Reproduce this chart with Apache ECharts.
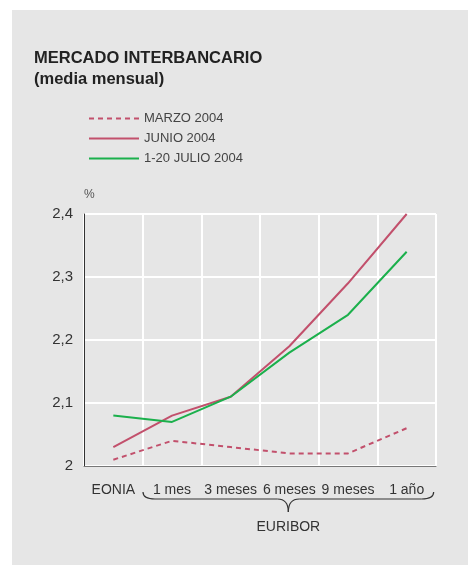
<!DOCTYPE html>
<html>
<head>
    <meta charset="utf-8">
    <title>Mercado interbancario</title>
    <script src="https://cdn.jsdelivr.net/npm/echarts@6/dist/echarts.min.js"></script>
    <style>
        html, body { margin: 0; padding: 0; background: #fff; }
        #container { position: absolute; left: 12px; top: 10px; width: 456px; height: 555px; background: #e6e6e6; }
    </style>
</head>
<body>
    <div id="container"></div>
    <script type="text/javascript">
        // datos
        var categorias = ['EONIA', '1 mes', '3 meses', '6 meses', '9 meses', '1 año'];
        var marzo = [2.01, 2.04, 2.03, 2.02, 2.02, 2.06];
        var junio = [2.03, 2.08, 2.11, 2.19, 2.29, 2.40];
        var julio = [2.08, 2.07, 2.11, 2.18, 2.24, 2.34];
        var nombres = ['MARZO 2004', 'JUNIO 2004', '1-20 JULIO 2004'];

        var rojo = '#c2506c';
        var verde = '#1bb04c';
        var fuente = 'Liberation Sans';

        var myChart = echarts.init(document.getElementById('container'));

        var option = {
            backgroundColor: '#e6e6e6',
            textStyle: { fontFamily: fuente },
            title: {
                text: 'MERCADO INTERBANCARIO\n(media mensual)',
                left: 17,
                top: 33,
                textStyle: { fontSize: 16.5, fontWeight: 'bold', color: '#222', lineHeight: 21, fontFamily: fuente }
            },
            legend: {
                data: nombres,
                orient: 'vertical',
                left: 71,
                top: 97,
                itemWidth: 50,
                itemHeight: 12,
                itemGap: 7,
                itemStyle: { opacity: 0 },
                textStyle: { fontSize: 13, color: '#444', fontFamily: fuente }
            },
            grid: {
                left: 72,
                right: 32,
                top: 204,
                bottom: 99
            },
            xAxis: {
                type: 'category',
                data: categorias,
                boundaryGap: true,
                axisLine: { lineStyle: { color: '#777', width: 1 } },
                axisTick: { show: false },
                axisLabel: { color: '#333', fontSize: 14, margin: 17, interval: 0, hideOverlap: false, fontFamily: fuente },
                splitLine: { show: true, interval: 0, lineStyle: { color: '#fff', width: 2 } }
            },
            yAxis: {
                type: 'value',
                min: 2,
                max: 2.4,
                interval: 0.1,
                name: '%',
                nameGap: 13,
                nameTextStyle: { color: '#555', fontSize: 12, align: 'left', fontFamily: fuente },
                axisLine: { show: true, lineStyle: { color: '#333', width: 1 } },
                axisTick: { show: false },
                axisLabel: {
                    color: '#333', fontSize: 15, margin: 11, fontFamily: fuente,
                    formatter: function (v) { return (Math.round(v * 10) / 10).toString().replace('.', ','); }
                },
                splitLine: { show: true, lineStyle: { color: '#fff', width: 2 } }
            },
            series: [
                {
                    name: nombres[0],
                    type: 'line',
                    data: marzo,
                    symbol: 'none',
                    lineStyle: { color: rojo, width: 2, type: [5, 4] },
                    itemStyle: { color: rojo },
                    z: 3
                },
                {
                    name: nombres[1],
                    type: 'line',
                    data: junio,
                    symbol: 'none',
                    lineStyle: { color: rojo, width: 2 },
                    itemStyle: { color: rojo },
                    z: 3
                },
                {
                    name: nombres[2],
                    type: 'line',
                    data: julio,
                    symbol: 'none',
                    lineStyle: { color: verde, width: 2 },
                    itemStyle: { color: verde },
                    z: 4
                }
            ]
        };

        myChart.setOption(option);

        // llave bajo los plazos EURIBOR, situada con las posiciones del eje
        var x0 = myChart.convertToPixel({ xAxisIndex: 0 }, 1) - 29;
        var x1 = myChart.convertToPixel({ xAxisIndex: 0 }, 5) + 27;
        var xm = (x0 + x1) / 2;
        var y0 = myChart.convertToPixel({ yAxisIndex: 0 }, 2) + 26;
        var y1 = y0 + 7;
        var y2 = y0 + 20;
        var trazo = { stroke: '#333', lineWidth: 1.2, fill: null };

        function curva(ax, ay, cx, cy, bx, by) {
            return { type: 'bezierCurve', shape: { x1: ax, y1: ay, cpx1: cx, cpy1: cy, x2: bx, y2: by }, style: trazo };
        }
        function recta(ax, ay, bx, by) {
            return { type: 'line', shape: { x1: ax, y1: ay, x2: bx, y2: by }, style: trazo };
        }

        myChart.setOption({
            graphic: [
                curva(x0, y0, x0, y1, x0 + 12, y1),
                recta(x0 + 12, y1, xm - 11, y1),
                curva(xm - 11, y1, xm, y1, xm, y2),
                curva(xm, y2, xm, y1, xm + 11, y1),
                recta(xm + 11, y1, x1 - 12, y1),
                curva(x1 - 12, y1, x1, y1, x1, y0),
                {
                    type: 'text',
                    x: xm,
                    y: y2 + 15,
                    style: { text: 'EURIBOR', fill: '#333', fontSize: 14, fontFamily: fuente, align: 'center', verticalAlign: 'middle' }
                }
            ]
        });
    </script>
</body>
</html>
